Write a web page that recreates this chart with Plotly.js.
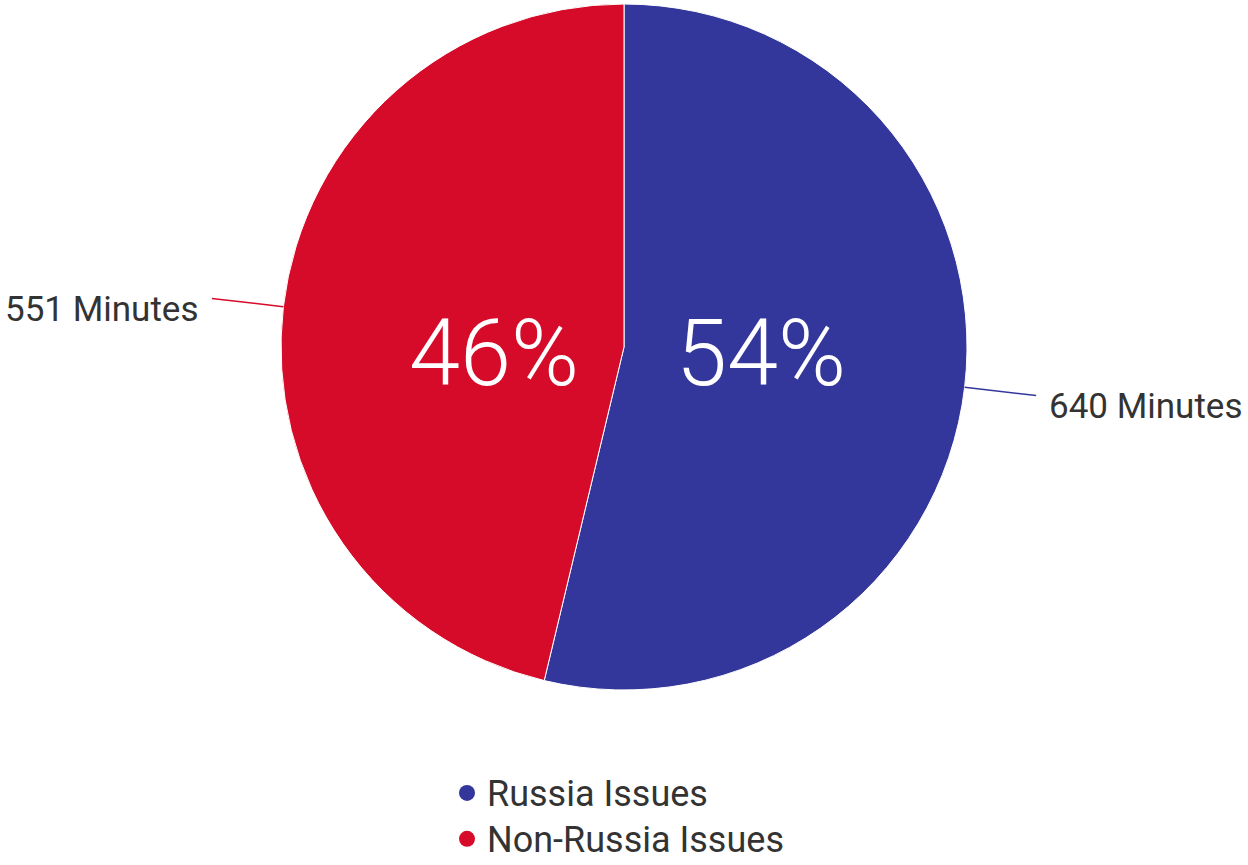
<!DOCTYPE html>
<html>
<head>
<meta charset="utf-8">
<script src="https://cdn.plot.ly/plotly-3.0.1.min.js"></script>
<style>html,body{margin:0;padding:0;background:#fff;}#chart{width:1248px;height:865px;}</style>
</head>
<body>
<div id="chart"></div>
<script>
const categories = ["Russia Issues", "Non-Russia Issues"];
const minutes = [640, 551];
const sliceLabels = ["640 Minutes", "551 Minutes"];
const colors = ["#33379b", "#d60a29"];

const W = 1248, H = 865;
const cx = 624, cy = 347, R = 343;
const px = x => x / W;
const py = y => 1 - y / H;

const total = minutes.reduce((a, b) => a + b, 0);
const annotations = [];
const shapes = [];
let cum = 0;
minutes.forEach((v, i) => {
  const frac = v / total;
  const mid = (cum + frac / 2) * 2 * Math.PI; // clockwise from top
  cum += frac;
  const dx = Math.sin(mid), dy = -Math.cos(mid);
  const x0 = cx + R * dx, y0 = cy + R * dy;
  const x1 = cx + (R + 72) * dx, y1 = cy + (R + 72) * dy;
  shapes.push({type: "line", xref: "paper", yref: "paper",
    x0: px(x0), y0: py(y0), x1: px(x1), y1: py(y1),
    line: {color: colors[i], width: 1.5}});
  const right = dx > 0;
  annotations.push({xref: "paper", yref: "paper", x: px(x1), y: py(y1),
    xanchor: right ? "left" : "right", yanchor: "middle",
    xshift: right ? 11 : -12, yshift: -11, showarrow: false,
    text: sliceLabels[i], font: {family: "Roboto", size: 35, color: "#333333"}});
  annotations.push({xref: "paper", yref: "paper",
    x: px(cx + (right ? 137 : -130)), y: py(353),
    xanchor: "center", yanchor: "middle", showarrow: false,
    text: Math.round(frac * 100) + "%",
    font: {family: "Roboto", size: 92, color: "#ffffff", weight: 300}});
});

const traces = [{
  type: "pie",
  values: minutes,
  labels: categories,
  sort: false,
  direction: "clockwise",
  rotation: 0,
  marker: {colors: colors, line: {color: "#ffffff", width: 1}},
  textinfo: "none",
  showlegend: false,
  domain: {x: [px(cx - R), px(cx + R)], y: [py(cy + R), py(cy - R)]}
}];
categories.forEach((c, i) => {
  traces.push({type: "scatter", mode: "markers", x: [null], y: [null],
    name: '<span style="font-size:36px">' + c + '</span>',
    marker: {color: colors[i], size: 22}, showlegend: true});
});

const layout = {
  width: W, height: H,
  margin: {l: 0, r: 0, t: 0, b: 0, autoexpand: false},
  paper_bgcolor: "#ffffff", plot_bgcolor: "#ffffff",
  xaxis: {visible: false}, yaxis: {visible: false},
  showlegend: true,
  legend: {x: px(447), y: py(765), xanchor: "left", yanchor: "top",
    orientation: "v", font: {family: "Roboto", size: 33, color: "#333333"},
    tracegroupgap: 0, itemclick: false, itemdoubleclick: false},
  annotations: annotations,
  shapes: shapes
};
Plotly.newPlot("chart", traces, layout, {displayModeBar: false, staticPlot: true});
</script>
</body>
</html>
